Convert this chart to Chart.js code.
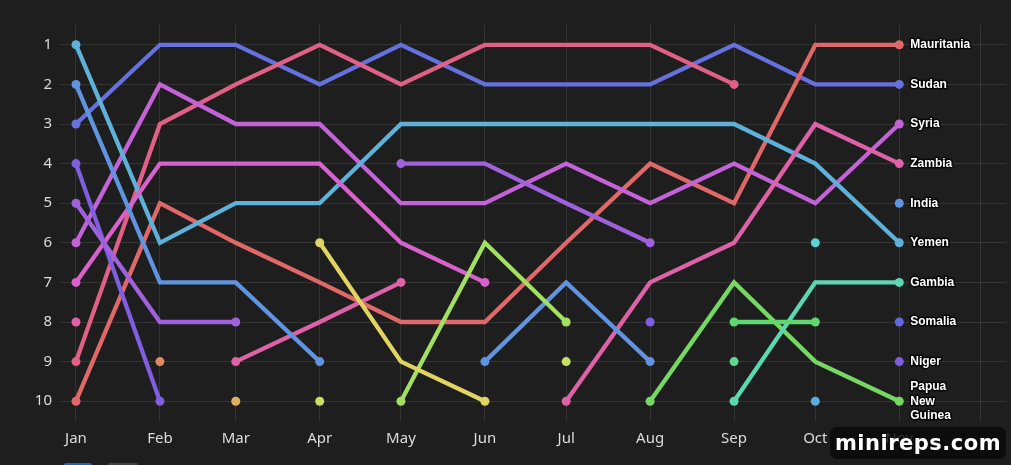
<!DOCTYPE html>
<html lang="en">
<head>
<meta charset="UTF-8">
<title>Ranking by month</title>
<script src="https://cdn.jsdelivr.net/npm/chart.js@4.4.1/dist/chart.umd.min.js"></script>
<style>
    html, body { margin: 0; padding: 0; background: #1e1e1e; overflow: hidden; }
    #wrap { position: relative; width: 1011px; height: 465px; }
    #watermark {
        position: absolute; left: 830px; top: 427px; width: 176px; height: 32px;
        background: rgba(8, 8, 8, 0.82); border-radius: 7px;
        color: #fff; font: bold 21px "DejaVu Sans", sans-serif; letter-spacing: 0.5px;
        line-height: 32px; text-align: center;
    }
    .tab { position: absolute; top: 463px; height: 4px; width: 28px; border-radius: 3px; }
</style>
</head>
<body>
<div id="wrap">
    <canvas id="myChart" width="1011" height="465"></canvas>
    <div class="tab" style="left:64px; background:#1463d6;"></div>
    <div class="tab" style="left:108px; width:30px; background:#444;"></div>
    <div id="watermark">minireps.com</div>
</div>

<script>
    // months and the day of year each one starts on (x axis is in days)
    const months = ['Jan', 'Feb', 'Mar', 'Apr', 'May', 'Jun', 'Jul', 'Aug', 'Sep', 'Oct', 'Nov'];
    const monthStart = [0, 31, 59, 90, 120, 151, 181, 212, 243, 273, 304, 334];
    const rankTicks = [1, 2, 3, 4, 5, 6, 7, 8, 9, 10];

    // rank per month, null = not in the top 10
    const mauritania = [10, 5, 6, 7, 8, 8, 6, 4, 5, 1, 1];
    const sudan      = [3, 1, 1, 2, 1, 2, 2, 2, 1, 2, 2];
    const syria      = [6, 2, 3, 3, 5, 5, 4, 5, 4, 5, 3];
    const zambia     = [8, null, 9, 8, 7, null, 10, 7, 6, 3, 4];
    const india      = [2, 7, 7, 9, null, 9, 7, 9, null, null, 5];
    const yemen      = [1, 6, 5, 5, 3, 3, 3, 3, 3, 4, 6];
    const gambia     = [null, null, null, null, null, null, null, null, 10, 7, 7];
    const somalia    = [null, null, null, null, null, null, null, null, null, null, 8];
    const niger      = [4, 10, null, null, null, null, null, 8, null, null, 9];
    const png        = [null, null, null, null, null, null, null, 10, 7, 9, 10];
    const otherA     = [9, 3, 2, 1, 2, 1, 1, 1, 2, null, null];
    const otherB     = [7, 4, 4, 4, 6, 7, null, null, null, null, null];
    const otherC     = [5, 8, 8, null, 4, 4, 5, 6, null, null, null];
    const otherD     = [null, null, null, 10, null, null, 9, null, null, null, null];
    const otherE     = [null, null, null, null, null, null, null, null, null, 6, null];
    const otherF     = [null, null, null, null, null, null, null, null, null, 10, null];
    const otherG     = [null, null, null, null, null, null, null, null, 9, null, null];
    const otherH     = [null, null, null, null, null, null, null, null, 8, 8, null];
    const otherI     = [null, 9, null, null, null, null, null, null, null, null, null];
    const otherJ     = [null, null, 10, null, null, null, null, null, null, null, null];
    const otherK     = [null, null, null, 6, 9, 10, null, null, null, null, null];
    const otherL     = [null, null, null, null, 10, 6, 8, null, null, null, null];

    const series = [
        ['Other D', otherD, '#c5e062'],
        ['Other I', otherI, '#e08a62'],
        ['Other J', otherJ, '#e0b062'],
        ['Other E', otherE, '#56d3d8'],
        ['Other F', otherF, '#5aaedb'],
        ['Other G', otherG, '#5fd88e'],
        ['Other H', otherH, '#5fd86e'],
        ['Other K', otherK, '#e0d462'],
        ['Other L', otherL, '#a2e062'],
        ['Other C', otherC, '#a061dc'],
        ['Niger', niger, '#7f5fe0'],
        ['India', india, '#6093e0'],
        ['Other B', otherB, '#d862cc'],
        ['Zambia', zambia, '#de62a8'],
        ['Gambia', gambia, '#5ad8b2'],
        ['Papua New Guinea', png, '#76d862'],
        ['Yemen', yemen, '#5eb2da'],
        ['Syria', syria, '#c462d8'],
        ['Somalia', somalia, '#6068dc'],
        ['Mauritania', mauritania, '#e06868'],
        ['Other A', otherA, '#e06088'],
        ['Sudan', sudan, '#6670de'],
    ];

    // dots only where a run of ranks starts or stops
    const endRadius = ctx => {
        const d = ctx.dataset.data;
        const i = ctx.dataIndex;
        if (d[i].y == null) return 0;
        const prev = d[i - 1], next = d[i + 1];
        const open = !prev || prev.y == null || !next || next.y == null;
        return open ? 4.5 : 0;
    };

    const datasets = series.map(([name, ranks, color]) => ({
        label: name,
        data: ranks.map((r, i) => ({ x: monthStart[i], y: r })),
        borderColor: color,
        backgroundColor: color,
        borderWidth: 4.3,
        pointRadius: endRadius,
        pointHoverRadius: endRadius,
        pointBorderWidth: 0,
        spanGaps: false,
        tension: 0,
    }));

    // country names next to the November dot
    const endLabels = {
        id: 'endLabels',
        afterDatasetsDraw(chart) {
            const c = chart.ctx;
            c.save();
            c.font = 'bold 12px "Liberation Sans", Arial, sans-serif';
            c.textBaseline = 'middle';
            c.textAlign = 'left';
            c.lineJoin = 'round';
            chart.data.datasets.forEach((ds, di) => {
                const last = ds.data.length - 1;
                if (ds.data[last].y == null) return;
                const pt = chart.getDatasetMeta(di).data[last];
                const lines = ds.label.split(' ');
                const lh = 14.5;
                lines.forEach((ln, k) => {
                    const y = pt.y + (k - (lines.length - 1) / 2) * lh;
                    c.strokeStyle = 'rgba(0,0,0,0.75)';
                    c.lineWidth = 3;
                    c.strokeText(ln, pt.x + 11, y);
                    c.fillStyle = '#ffffff';
                    c.fillText(ln, pt.x + 11, y);
                });
            });
            c.restore();
        }
    };

    const grid = { color: 'rgba(255,255,255,0.1)', lineWidth: 1, drawTicks: false };

    const ctx = document.querySelector('#myChart').getContext('2d');
    const myChart = new Chart(ctx, {
        type: 'line',
        data: { datasets },
        options: {
            responsive: false,
            animation: false,
            layout: { padding: { top: 25, right: 0, left: 0, bottom: 0 } },
            plugins: { legend: { display: false }, tooltip: { enabled: false } },
            scales: {
                x: {
                    type: 'linear',
                    min: -5.9,
                    max: 343.6,
                    grid: grid,
                    border: { display: false },
                    afterBuildTicks: s => { s.ticks = monthStart.map(v => ({ value: v })); },
                    afterFit: s => { s.height = 44; },
                    ticks: {
                        color: '#dcdcdc',
                        padding: 9,
                        maxRotation: 0,
                        autoSkip: false,
                        font: { family: '"Noto Sans", sans-serif', size: 15 },
                        callback: (v, i) => months[i] || '',
                    },
                },
                y: {
                    type: 'linear',
                    reverse: true,
                    min: 0.5,
                    max: 10.5,
                    grid: grid,
                    border: { display: false },
                    afterBuildTicks: s => { s.ticks = rankTicks.map(v => ({ value: v })); },
                    afterFit: s => { s.width = 60; },
                    ticks: {
                        color: '#dcdcdc',
                        padding: 8,
                        font: { family: '"Noto Sans", sans-serif', size: 15 },
                        callback: v => v,
                    },
                },
            },
        },
        plugins: [endLabels],
    });
</script>
</body>
</html>
